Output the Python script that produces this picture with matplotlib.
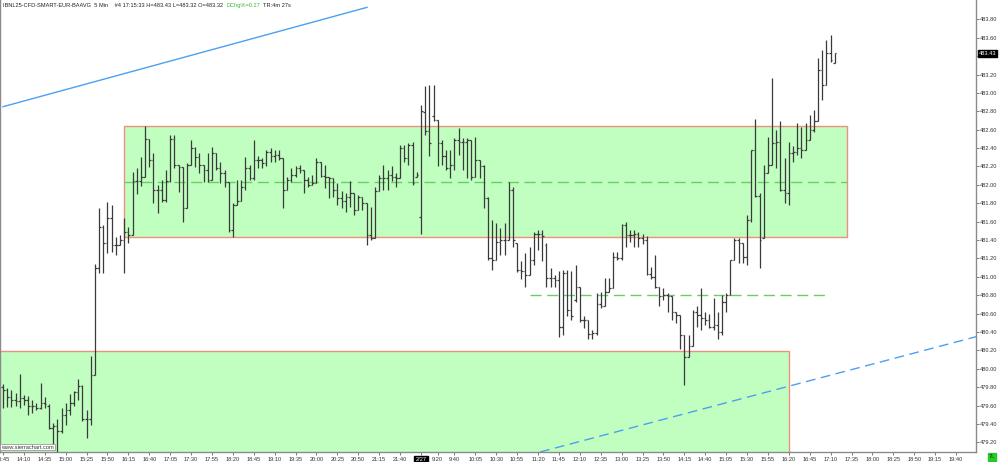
import matplotlib
matplotlib.use('Agg')
import matplotlib.pyplot as plt
from matplotlib.patches import Rectangle

plt.rcParams['font.family'] = ['Liberation Sans', 'DejaVu Sans']

# 5 min OHLC bars, index 0 = 13:45 (day 1), index 100 = 9:00 (2/27)
opens = [479.80, 479.77, 479.69, 479.66, 479.65, 479.68, 479.66, 479.60, 479.60, 479.57,
         479.63, 479.60, 479.36, 479.38, 479.33, 479.50, 479.55, 479.63, 479.75, 479.81,
         479.45, 479.45, 479.93, 481.10, 481.54, 481.37, 481.64, 481.35, 481.35, 481.40,
         481.49, 481.45, 482.04, 482.04, 482.09, 482.50, 482.27, 481.94, 481.94, 481.84,
         482.04, 482.50, 482.22, 482.19, 481.75, 482.22, 482.40, 482.30, 482.22, 482.16,
         482.05, 482.35, 482.18, 482.13, 482.03, 481.51, 481.78, 481.82, 481.98, 482.18,
         482.07, 482.27, 482.27, 482.24, 482.36, 482.31, 482.33, 482.29, 481.94, 482.05,
         482.11, 482.18, 482.16, 482.05, 482.00, 482.02, 482.25, 482.10, 482.09, 482.07,
         481.94, 481.86, 481.82, 481.87, 481.91, 481.73, 481.87, 481.80, 481.46, 481.42,
         481.93, 482.07, 482.07, 482.11, 482.09, 482.07, 482.40, 482.29, 482.43, 482.09,
         481.65, 482.79, 482.59, 482.75, 482.71, 482.46, 482.31, 482.18, 482.22, 482.49,
         482.47, 482.47, 482.49, 482.09, 482.27, 482.20, 481.86, 481.21, 481.18, 481.38,
         481.40, 481.40, 481.94, 481.37, 481.08, 481.06, 481.02, 481.18, 481.47, 481.47,
         481.35, 480.99, 480.99, 480.97, 480.45, 481.04, 480.64, 480.75, 480.89, 480.53,
         480.53, 480.38, 480.39, 480.70, 480.68, 480.84, 480.88, 481.22, 481.20, 481.56,
         481.45, 481.45, 481.47, 481.42, 481.40, 481.03, 481.00, 480.89, 480.79, 480.80,
         480.79, 480.62, 480.59, 480.37, 480.13, 480.25, 480.62, 480.59, 480.55, 480.53,
         480.46, 480.48, 480.40, 480.73, 480.80, 481.18, 481.40, 481.37, 481.22, 481.62,
         482.38, 481.88, 481.42, 482.13, 482.22, 482.46, 482.47, 481.94, 481.91, 482.35,
         482.36, 482.40, 482.38, 482.49, 482.60, 482.69, 483.25, 483.09, 483.43, 483.32]
highs = [479.84, 479.79, 479.77, 479.74, 479.94, 479.72, 479.70, 479.66, 479.63, 479.85,
         479.69, 479.62, 479.41, 479.46, 479.58, 479.63, 479.73, 479.76, 479.89, 479.82,
         479.55, 480.14, 481.14, 481.75, 481.56, 481.81, 481.78, 481.43, 481.46, 481.64,
         481.54, 482.14, 482.18, 482.30, 482.64, 482.50, 482.35, 482.00, 482.05, 482.16,
         482.54, 482.54, 482.22, 482.19, 482.24, 482.49, 482.41, 482.35, 482.22, 482.35,
         482.41, 482.35, 482.25, 482.16, 482.03, 481.80, 482.05, 482.05, 482.30, 482.22,
         482.49, 482.31, 482.29, 482.38, 482.40, 482.38, 482.38, 482.29, 482.09, 482.18,
         482.20, 482.22, 482.16, 482.09, 482.11, 482.29, 482.25, 482.22, 482.09, 482.07,
         482.02, 481.93, 481.91, 482.04, 481.91, 481.89, 481.87, 481.80, 481.76, 481.98,
         482.11, 482.22, 482.16, 482.20, 482.13, 482.43, 482.43, 482.46, 482.47, 482.14,
         482.87, 483.07, 483.09, 483.09, 482.71, 482.49, 482.38, 482.38, 482.51, 482.62,
         482.51, 482.51, 482.49, 482.52, 482.27, 482.22, 481.87, 481.62, 481.59, 481.53,
         481.59, 482.03, 481.98, 481.37, 481.17, 481.26, 481.33, 481.49, 481.51, 481.51,
         481.37, 481.10, 481.02, 481.06, 481.08, 481.08, 481.06, 481.13, 480.89, 480.57,
         480.53, 480.42, 480.82, 480.84, 480.99, 480.99, 481.27, 481.27, 481.58, 481.60,
         481.51, 481.51, 481.49, 481.47, 481.44, 481.11, 481.24, 480.89, 480.88, 480.82,
         480.79, 480.62, 480.59, 480.37, 480.37, 480.64, 480.68, 480.88, 480.62, 480.60,
         480.77, 480.62, 480.80, 480.82, 481.18, 481.42, 481.42, 481.37, 481.67, 482.38,
         482.72, 481.91, 482.22, 482.52, 483.16, 482.60, 482.69, 482.29, 482.47, 482.42,
         482.67, 482.63, 482.67, 482.76, 482.81, 483.38, 483.47, 483.58, 483.63, 483.43]
lows = [479.57, 479.59, 479.59, 479.60, 479.58, 479.61, 479.50, 479.52, 479.55, 479.56,
        479.58, 479.35, 479.15, 479.05, 479.30, 479.39, 479.50, 479.60, 479.66, 479.43,
        479.25, 479.39, 479.93, 481.04, 481.04, 481.26, 481.27, 481.24, 481.35, 481.04,
        481.37, 481.45, 481.90, 481.99, 482.09, 482.19, 481.80, 481.69, 481.81, 481.81,
        482.03, 482.18, 481.92, 481.60, 481.75, 482.22, 482.19, 482.13, 482.03, 482.03,
        482.05, 482.16, 482.02, 481.98, 481.49, 481.43, 481.78, 481.82, 481.94, 482.05,
        482.05, 482.18, 482.18, 482.20, 482.25, 482.25, 482.27, 481.75, 481.94, 482.03,
        482.09, 482.13, 481.91, 481.98, 482.00, 482.02, 482.09, 481.97, 481.86, 481.87,
        481.78, 481.75, 481.71, 481.76, 481.67, 481.73, 481.73, 481.35, 481.40, 481.42,
        481.93, 481.94, 481.94, 482.04, 481.98, 482.07, 482.25, 482.22, 482.00, 482.09,
        481.47, 482.54, 482.31, 482.70, 482.20, 482.22, 482.16, 482.08, 482.16, 482.33,
        482.16, 482.08, 482.05, 482.09, 482.08, 481.75, 481.18, 481.08, 481.18, 481.24,
        481.24, 481.40, 481.33, 481.05, 480.98, 480.89, 481.02, 481.13, 481.29, 481.17,
        480.89, 480.89, 480.89, 480.35, 480.37, 480.57, 480.53, 480.73, 480.51, 480.44,
        480.33, 480.33, 480.37, 480.66, 480.68, 480.84, 480.88, 481.18, 481.18, 481.33,
        481.38, 481.33, 481.33, 481.36, 481.02, 480.98, 480.88, 480.68, 480.75, 480.62,
        480.53, 480.50, 480.22, 479.82, 480.13, 480.25, 480.46, 480.42, 480.48, 480.44,
        480.42, 480.33, 480.37, 480.62, 480.80, 481.18, 481.15, 481.15, 481.13, 481.60,
        481.87, 481.10, 481.42, 482.13, 482.22, 482.18, 481.93, 481.80, 481.78, 482.25,
        482.33, 482.29, 482.38, 482.49, 482.58, 482.69, 482.92, 483.09, 483.34, 483.32]
closes = [479.77, 479.69, 479.66, 479.65, 479.68, 479.66, 479.60, 479.60, 479.57, 479.63,
          479.62, 479.36, 479.38, 479.33, 479.50, 479.55, 479.63, 479.75, 479.81, 479.45,
          479.45, 479.93, 481.10, 481.54, 481.37, 481.64, 481.35, 481.35, 481.40, 481.49,
          481.45, 482.04, 482.04, 482.09, 482.50, 482.27, 481.94, 481.94, 481.84, 482.04,
          482.50, 482.22, 482.19, 481.75, 482.22, 482.40, 482.30, 482.22, 482.16, 482.05,
          482.35, 482.18, 482.13, 482.03, 481.51, 481.78, 481.82, 481.98, 482.18, 482.07,
          482.27, 482.27, 482.24, 482.36, 482.31, 482.33, 482.29, 481.94, 482.05, 482.11,
          482.18, 482.16, 482.05, 482.00, 482.02, 482.25, 482.10, 482.09, 482.07, 481.94,
          481.86, 481.82, 481.87, 481.91, 481.73, 481.87, 481.80, 481.46, 481.42, 481.93,
          482.07, 482.07, 482.11, 482.09, 482.07, 482.40, 482.29, 482.43, 482.02, 482.11,
          482.80, 482.59, 482.45, 482.71, 482.46, 482.31, 482.18, 482.22, 482.49, 482.47,
          482.47, 482.49, 482.09, 482.27, 482.20, 481.86, 481.21, 481.18, 481.38, 481.40,
          481.40, 481.94, 481.40, 481.08, 481.06, 481.02, 481.18, 481.47, 481.47, 481.44,
          480.99, 480.99, 480.97, 480.45, 481.04, 480.64, 480.57, 480.89, 480.53, 480.53,
          480.38, 480.39, 480.70, 480.68, 480.84, 480.88, 481.22, 481.20, 481.56, 481.45,
          481.45, 481.47, 481.42, 481.40, 481.03, 481.00, 480.89, 480.79, 480.80, 480.79,
          480.62, 480.59, 480.37, 480.13, 480.25, 480.62, 480.59, 480.55, 480.53, 480.46,
          480.48, 480.40, 480.73, 480.80, 481.18, 481.40, 481.37, 481.22, 481.62, 482.38,
          481.88, 481.40, 482.13, 482.22, 482.46, 482.47, 481.94, 481.91, 482.35, 482.36,
          482.40, 482.38, 482.49, 482.60, 482.69, 483.25, 483.09, 483.43, 483.36, 483.43]

tick_pos = [0, 5, 10, 15, 20, 25, 30, 35, 40, 45, 50, 55, 60, 65, 70, 75, 80, 85, 90, 95,
            100, 104, 108, 113, 118, 123, 128, 133, 138, 143, 148, 153, 158, 163, 168, 173,
            178, 183, 188, 193, 198, 203, 208, 213, 218, 223, 228]
tick_labels = ['13:45', '14:10', '14:35', '15:00', '15:25', '15:50', '16:15', '16:40', '17:05',
               '17:30', '17:55', '18:20', '18:45', '19:10', '19:35', '20:00', '20:25', '20:50',
               '21:15', '21:40', '2/27', '9:20', '9:40', '10:05', '10:30', '10:55', '11:20',
               '11:45', '12:10', '12:35', '13:00', '13:25', '13:50', '14:15', '14:40', '15:05',
               '15:30', '15:55', '16:20', '16:45', '17:10', '17:35', '18:00', '18:25', '18:50',
               '19:15', '19:40']
price_ticks = [479.2, 479.4, 479.6, 479.8, 480.0, 480.2, 480.4, 480.6, 480.8, 481.0, 481.2,
               481.4, 481.6, 481.8, 482.0, 482.2, 482.4, 482.6, 482.8, 483.0, 483.2, 483.4,
               483.6, 483.8]

# drawings (bar index, price)
upper_box = (28.9, 201.9, 481.43, 482.64)
lower_box = (-5, 188.0, 478.0, 480.195)
upper_mid = 482.035
lower_mid = (126.0, 197.4, 480.80)
trend_solid = ([0.0, 87.1], [482.85, 483.93])
trend_dash = ([128.5, 232.8], [479.097, 480.35])
last_price = 483.43

header = [('IBNL25-CFD-SMART-EUR-BAAVG  5 Min    #4 17:15:33 H=483.43 L=483.32 O=483.32', '#222222'),
          ('DChg%=0.27', '#33bb33'),
          ('TR:4m 27s', '#222222')]

fs = 4.1
fig = plt.figure(figsize=(10, 4.62), dpi=100)
ax = fig.add_axes([0.0, 10 / 462, 0.976, 452 / 462])
ax.set_xlim(-0.718, 232.78)
ax.set_ylim(479.0967, 484.0098)

box_face = '#c0ffc0'
box_edge = '#ee8f80'
for x0, x1, y0, y1 in [upper_box, lower_box]:
    ax.add_patch(Rectangle((x0, y0), x1 - x0, y1 - y0, facecolor=box_face,
                           edgecolor=box_edge, lw=1.0, zorder=1))
ax.plot([upper_box[0], upper_box[1]], [upper_mid, upper_mid], color='#66d066',
        lw=1.0, dashes=(8, 4), zorder=2)
ax.plot([lower_mid[0], lower_mid[1]], [lower_mid[2], lower_mid[2]], color='#66d066',
        lw=1.0, dashes=(8, 4), zorder=2)
ax.plot(trend_solid[0], trend_solid[1], color='#4d9ff0', lw=1.0, zorder=2)
ax.plot(trend_dash[0], trend_dash[1], color='#4d9ff0', lw=1.0, dashes=(7, 4), zorder=2)

# OHLC bars
xs = list(range(len(closes)))
bar_col = '#3a3a3a'
ax.vlines(xs, lows, highs, color=bar_col, lw=0.9, zorder=3)
ax.hlines(opens, [x - 0.4 for x in xs], xs, color=bar_col, lw=0.9, zorder=3)
ax.hlines(closes, xs, [x + 0.4 for x in xs], color=bar_col, lw=0.9, zorder=3)

ax.spines['top'].set_visible(False)
for s in ['left', 'right', 'bottom']:
    ax.spines[s].set_color('#8a8a8a')
    ax.spines[s].set_linewidth(1.0)

ax.yaxis.tick_right()
ax.set_yticks(price_ticks)
ax.set_yticklabels(['%.2f' % p for p in price_ticks])
ax.tick_params(axis='y', length=2, width=0.6, color='#666666', labelsize=fs,
               labelcolor='#333333', pad=1)
ax.set_xticks(tick_pos)
ax.set_xticklabels(tick_labels)
ax.tick_params(axis='x', length=2, width=0.6, color='#666666', labelsize=fs,
               labelcolor='#333333', pad=1.5)
date_lbl = ax.get_xticklabels()[tick_labels.index('2/27')]
date_lbl.set_color('white')
date_lbl.set_bbox(dict(facecolor='black', edgecolor='black', pad=0.8))

ax.annotate('%.2f' % last_price, xy=(1.0, last_price), xycoords=('axes fraction', 'data'),
            xytext=(2, 0), textcoords='offset points', ha='left', va='center',
            fontsize=fs, color='white', annotation_clip=False, zorder=10,
            bbox=dict(facecolor='black', edgecolor='black', pad=0.8))

# header, pieces laid out one after another
renderer = fig.canvas.get_renderer()
x = 3
for txt, col in header:
    t = fig.text(x / 1000, 0.993, txt, fontsize=fs, color=col, ha='left', va='top')
    x = t.get_window_extent(renderer).x1 + 3

fig.text(0.001, 0.027, 'www.sierrachart.com', fontsize=fs, color='#333333', ha='left',
         va='bottom', bbox=dict(facecolor='white', edgecolor='#9a9a9a', pad=0.6, lw=0.6))
fig.text(0.992, 0.011, '7L', fontsize=fs, color='#333333', ha='center', va='center',
         bbox=dict(facecolor='#22cc22', edgecolor='#22cc22', pad=1.0))

fig.savefig('out.png', dpi=100)
